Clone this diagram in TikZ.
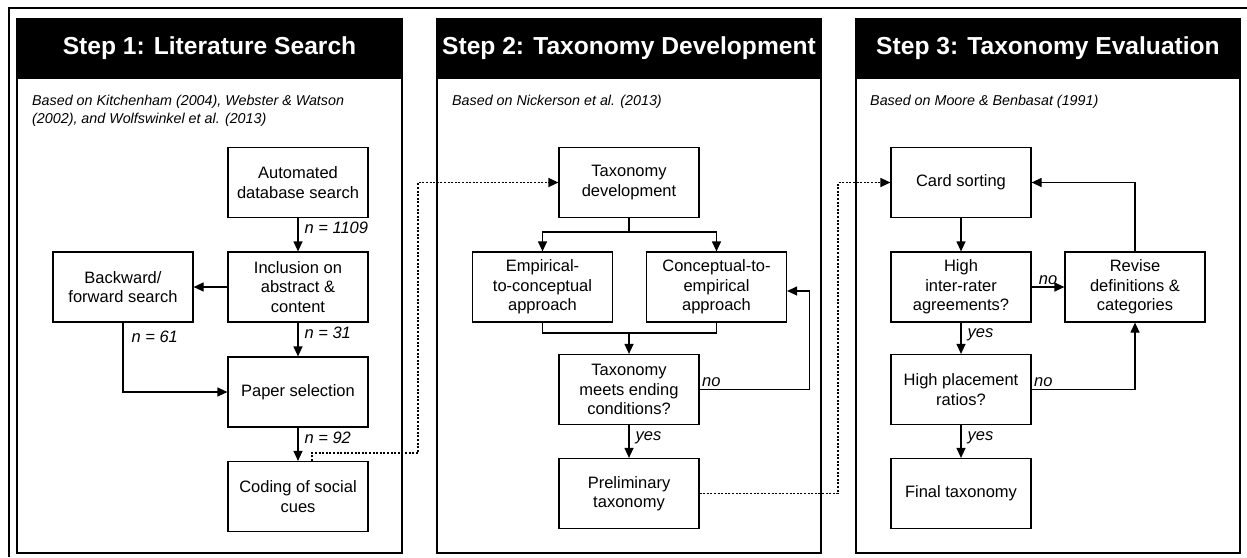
\documentclass[tikz,border=0pt]{standalone}
\usepackage{fontspec}
\setmainfont{Liberation Sans}
\usetikzlibrary{positioning,arrows.meta}

\begin{document}
\begin{tikzpicture}[x=1pt, y=-1pt,
  panel/.style={draw=black, line width=1.3pt},
  head/.style={draw=black, fill=black, line width=1.3pt},
  ttl/.style={font=\bfseries\fontsize{24.6}{28}\selectfont, text=white},
  src/.style={font=\itshape\fontsize{14.3}{18}\selectfont,
    align=left, anchor=north west, inner sep=0pt},
  box/.style={
    draw=black, line width=1.2pt,
    minimum width=140pt, minimum height=70pt,
    font=\fontsize{16.5}{19.3}\selectfont, align=center, inner sep=2pt
  },
  lbl/.style={font=\itshape\fontsize{16.5}{19}\selectfont, inner sep=2pt},
  arr/.style={-{Triangle[length=10pt,width=9pt]}, line width=1.2pt},
  dotarr/.style={-{Triangle[length=10pt,width=9pt]}, line width=1.4pt,
    dash pattern=on 2pt off 1.6pt}
]
\useasboundingbox (0,0) rectangle (1247,557);
\draw[line width=1.3pt] (9,557) -- (9,8) -- (1247,8);

\draw[panel] (17,19) rectangle (402,553);
\draw[head]  (17,19) rectangle (402,78);
\node[ttl] (t1) at (209.5,48.5) {Step 1: Literature Search};
\node[src] (src1) at (32,95)
  {Based on Kitchenham (2004), Webster \& Watson\\(2002), and Wolfswinkel et al. (2013)};

\draw[panel] (437,19) rectangle (821,553);
\draw[head]  (437,19) rectangle (821,78);
\node[ttl] (t2) at (629,48.5) {Step 2: Taxonomy Development};
\node[src] (src2) at (452,95) {Based on Nickerson et al. (2013)};

\draw[panel] (856,19) rectangle (1240,553);
\draw[head]  (856,19) rectangle (1240,78);
\node[ttl] (t3) at (1048,48.5) {Step 3: Taxonomy Evaluation};
\node[src] (src3) at (870,95) {Based on Moore \& Benbasat (1991)};

\node[box] (auto)  at (298,182.5) {Automated\\database search};
\node[box] (incl)  at (298,287)   {Inclusion on\\abstract \&\\content};
\node[box] (back)  at (123,287)   {Backward/\\forward search};
\node[box] (paper) at (298,392)   {Paper selection};
\node[box] (code)  at (298,496.5) {Coding of social\\cues};

\node[box] (taxdev) at (629,182.5)   {Taxonomy\\development};
\node[box] (emp)    at (542.5,287)   {Empirical-\\to-conceptual\\approach};
\node[box] (con)    at (716.5,287)   {Conceptual-to-\\empirical\\approach};
\node[box] (meet)   at (629,389.5)   {Taxonomy\\meets ending\\conditions?};
\node[box] (prelim) at (629,493.5)   {Preliminary\\taxonomy};

\node[box] (card)  at (961,182.5)  {Card sorting};
\node[box] (irr)   at (961,287)    {High\\inter-rater\\agreements?};
\node[box] (rev)   at (1135,287)   {Revise\\definitions \&\\categories};
\node[box] (place) at (961,389.5)  {High placement\\ratios?};
\node[box] (final) at (961,493.5)  {Final taxonomy};

\draw[arr] (auto) -- node[lbl,right=4pt,pos=0.3] {n = 1109} (incl);
\draw[arr] (incl) -- (back);
\draw[arr] (incl) -- node[lbl,right=4pt,pos=0.3] {n = 31} (paper);
\draw[arr] (back.south) |- node[lbl,right=6pt,pos=0.1] {n = 61} (paper.west);
\draw[arr] (paper) -- node[lbl,right=4pt,pos=0.3] {n = 92} (code);

\coordinate (split) at (629,232);
\coordinate (join)  at (629,333);
\draw[line width=1.2pt] (taxdev) -- (split);
\draw[arr] (split) -| (emp);
\draw[arr] (split) -| (con);
\draw[line width=1.2pt] (emp) |- (join);
\draw[line width=1.2pt] (con) |- (join);
\draw[arr] (join) -- (meet);
\draw[arr] (meet.east) node[lbl,above right] {no}
  -| ([xshift=22pt,yshift=-4pt]con.east) -- ([yshift=-4pt]con.east);
\draw[arr] (meet) -- node[lbl,right=4pt,pos=0.4] {yes} (prelim);

\draw[arr] (card) -- (irr);
\draw[arr] (irr) -- node[lbl,above] {no} (rev);
\draw[arr] (irr) -- node[lbl,right=4pt,pos=0.4] {yes} (place);
\draw[arr] (place.east) node[lbl,above right] {no} -| (rev.south);
\draw[arr] (rev.north) |- (card.east);
\draw[arr] (place) -- node[lbl,right=4pt,pos=0.4] {yes} (final);

\coordinate (d1) at (418,453);
\coordinate (d2) at (838,182.5);
\draw[dotarr] ([xshift=14pt]code.north) |- (d1) |- (taxdev.west);
\draw[dotarr] (prelim.east) -| (d2) -- (card.west);

\end{tikzpicture}
\end{document}
